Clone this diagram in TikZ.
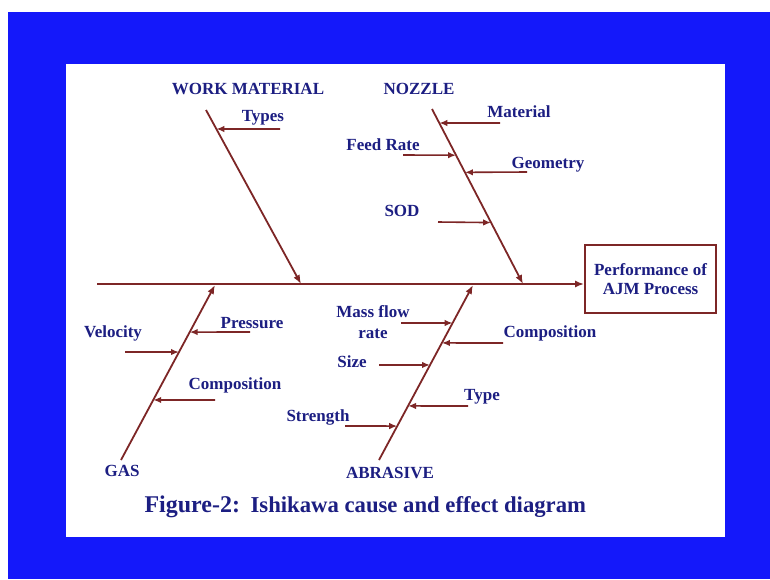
\documentclass[tikz,border=0pt]{standalone}
\usepackage{fontspec}
\setmainfont{Liberation Serif}
\usetikzlibrary{arrows.meta, calc, positioning}
\definecolor{slideblue}{RGB}{20,24,250}
\definecolor{labelblue}{RGB}{28,30,130}
\definecolor{bonered}{RGB}{125,38,38}
\newcommand{\cause}[4]
{
	\draw[causearrow] (#1) -- ($ (#2)!#4!(#3) $);
}

\begin{document}
\begin{tikzpicture}[x=1pt, y=-1pt,
	every node/.append style={text=labelblue,
		font=\bfseries\fontsize{17}{19}\selectfont},
	bone/.style={draw=bonered, line width=1.8pt, -{Latex[length=9pt,width=7pt]}},
	causearrow/.style={draw=bonered, line width=1.6pt, -{Latex[length=8pt,width=6.5pt]}},
	effectbox/.style={draw=bonered, line width=1.8pt, align=center,
		minimum width=131pt, minimum height=68pt, inner sep=2pt}]

	\useasboundingbox (0,0) rectangle (770,579);
	\fill[slideblue] (8,12) rectangle (770,579);
	\fill[white] (66,64) rectangle (725,537);

	\node[effectbox] at (650.5,279) (perf){Performance of\\AJM Process};

	\coordinate (spineL) at (97,284);
	\coordinate (wmTop) at (206,110);
	\coordinate (wmEnd) at (301,284);
	\coordinate (nzTop) at (432,109);
	\coordinate (nzEnd) at (523,284);
	\coordinate (gasBot) at (121,460);
	\coordinate (gasEnd) at (215,285);
	\coordinate (abBot) at (379,460);
	\coordinate (abEnd) at (473,285);

	\draw[bone] (spineL) -- (spineL -| perf.west);
	\draw[bone] (wmTop) -- (wmEnd);
	\draw[bone] (nzTop) -- (nzEnd);
	\draw[bone] (gasBot) -- (gasEnd);
	\draw[bone] (abBot) -- (abEnd);

	\node at (248,89) (wm){WORK MATERIAL};
	\node at (419,89) (nz){NOZZLE};
	\node at (122,471) (gas){GAS};
	\node at (390,473) (ab){ABRASIVE};

	\node at (263,118) (types){Types};
	\node at (519,112) (material){Material};
	\node at (383,145) (feed){Feed Rate};
	\node at (548,165) (geometry){Geometry};
	\node at (402,211) (sod){SOD};
	\node at (113,333) (velocity){Velocity};
	\node at (252,323) (pressure){Pressure};
	\node at (235,385) (gascomp){Composition};
	\node[align=center, font=\bfseries\fontsize{17}{21}\selectfont] at (373,322) (massflow){Mass flow\\rate};
	\node at (550,333) (abcomp){Composition};
	\node at (352,362) (size){Size};
	\node at (482,397) (type){Type};
	\node at (318,417) (strength){Strength};

	\coordinate (tTypes) at (280,129);
	\coordinate (tMaterial) at (500,123);
	\coordinate (tFeed) at (403,155);
	\coordinate (tGeometry) at (527,172);
	\coordinate (tSod) at (438,222);
	\coordinate (tPressure) at (250,332);
	\coordinate (tVelocity) at (125,352);
	\coordinate (tGascomp) at (215,400);
	\coordinate (tMassflow) at (401,323);
	\coordinate (tAbcomp) at (503,343);
	\coordinate (tSize) at (379,365);
	\coordinate (tType) at (468,406);
	\coordinate (tStrength) at (345,426);

	\cause{tTypes}{wmTop}{wmEnd}{0.109}
	\cause{tMaterial}{nzTop}{nzEnd}{0.080}
	\cause{tFeed}{nzTop}{nzEnd}{0.264}
	\cause{tGeometry}{nzTop}{nzEnd}{0.362}
	\cause{tSod}{nzTop}{nzEnd}{0.649}
	\cause{tPressure}{gasEnd}{gasBot}{0.269}
	\cause{tVelocity}{gasEnd}{gasBot}{0.383}
	\cause{tGascomp}{gasEnd}{gasBot}{0.657}
	\cause{tMassflow}{abEnd}{abBot}{0.217}
	\cause{tAbcomp}{abEnd}{abBot}{0.331}
	\cause{tSize}{abEnd}{abBot}{0.457}
	\cause{tType}{abEnd}{abBot}{0.691}
	\cause{tStrength}{abEnd}{abBot}{0.806}

	\node[anchor=base west, font=\bfseries\fontsize{22.7}{26}\selectfont] at (141,512) (caption){{\fontsize{24}{28}\selectfont Figure-2:}\hspace{3pt} Ishikawa cause and effect diagram};
\end{tikzpicture}
\end{document}
